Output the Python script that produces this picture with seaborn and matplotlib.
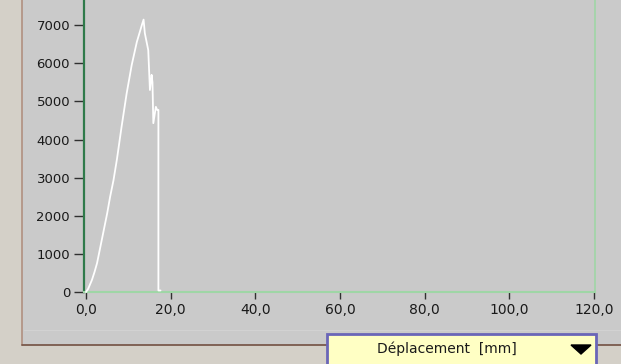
import matplotlib
matplotlib.use("Agg")
import matplotlib.pyplot as plt
from matplotlib.lines import Line2D
from matplotlib.patches import Rectangle, Polygon
from matplotlib.ticker import FixedLocator, FuncFormatter
import seaborn as sns
import pandas as pd

# ---- data ----
deplacement_mm = [0, 0.5, 1.4, 2.0, 2.6, 3.4, 4.2, 5.0, 5.7, 6.5, 7.3, 8.4, 9.6,
                  10.8, 12.0, 13.2, 13.6, 13.9, 14.7, 15.1, 15.5, 15.7, 15.9,
                  16.5, 16.8, 17.1, 17.1, 17.6]
force = [0, 80, 315, 520, 752, 1188, 1625, 2063, 2500, 2937, 3480, 4334, 5210,
         5960, 6560, 7010, 7150, 6790, 6350, 5300, 5700, 5500, 4430,
         4860, 4780, 4780, 40, 40]
x_ticks = [0, 20, 40, 60, 80, 100, 120]
y_ticks = [0, 1000, 2000, 3000, 4000, 5000, 6000, 7000]
x_label = "Déplacement  [mm]"

df = pd.DataFrame({"x": deplacement_mm, "y": force})

sns.set_style("white")
plt.rcParams["font.family"] = ["DejaVu Sans"]

W, H = 621, 364
fig = plt.figure(figsize=(W / 100, H / 100), dpi=100, facecolor="#d4d0c8")

def fx(px):
    return px / W

def fy(py):
    return 1 - py / H

# inner panel background
fig.add_artist(Rectangle((fx(22), fy(345)), fx(W) - fx(22), fy(0) - fy(345),
                         transform=fig.transFigure, facecolor="#cacaca",
                         edgecolor="none", zorder=0))

ax = fig.add_axes([fx(84), fy(292), fx(595) - fx(84), fy(0) - fy(292)])
ax.set_facecolor("#c9c9c9")

sns.lineplot(data=df, x="x", y="y", sort=False, estimator=None, ax=ax,
             color="white", linewidth=1.3)
for ln in ax.lines:
    ln.set_zorder(3)
    ln.set_clip_on(False)

ax.set_xlim(-0.47, 120.2)
ax.set_ylim(0, 7664)
ax.xaxis.set_major_locator(FixedLocator(x_ticks))
ax.yaxis.set_major_locator(FixedLocator(y_ticks))
ax.xaxis.set_major_formatter(FuncFormatter(lambda v, p: f"{v:.1f}".replace(".", ",")))
ax.yaxis.set_major_formatter(FuncFormatter(lambda v, p: f"{int(v)}"))
ax.set_xlabel("")
ax.set_ylabel("")

ax.tick_params(axis="x", direction="out", length=5, width=1, color="#303030",
               labelsize=10, labelcolor="#1a1a1a", pad=3, bottom=True)
ax.tick_params(axis="y", direction="out", length=7, width=1, color="#303030",
               labelsize=9.5, labelcolor="#1a1a1a", pad=3, left=True)

ax.spines["top"].set_visible(False)
ax.spines["left"].set_color("#2f7a4a")
ax.spines["left"].set_linewidth(1.6)
ax.spines["bottom"].set_color("#9fd6a6")
ax.spines["bottom"].set_linewidth(1.5)
ax.spines["right"].set_color("#9fd6a6")
ax.spines["right"].set_linewidth(1.2)

# brown frame lines
brown = "#7a5a4c"
fig.add_artist(Line2D([fx(22), fx(22)], [fy(0), fy(345)], color="#b09080",
                      linewidth=1.2, transform=fig.transFigure))
fig.add_artist(Line2D([fx(22), fx(W)], [fy(345), fy(345)], color=brown,
                      linewidth=1.3, transform=fig.transFigure))
fig.add_artist(Line2D([fx(24), fx(W)], [fy(330), fy(330)], color="#d2d2d2",
                      linewidth=0.8, transform=fig.transFigure))

# axis label box
fig.add_artist(Rectangle((fx(327), fy(366)), fx(596) - fx(327), fy(334) - fy(366),
                         transform=fig.transFigure, facecolor="#ffffc4",
                         edgecolor="#6a66b8", linewidth=2.0, zorder=5))
fig.text(fx(447), fy(349), x_label, ha="center", va="center", fontsize=10,
         color="#1a1a1a", zorder=6)
fig.add_artist(Polygon([[fx(571), fy(345)], [fx(591), fy(345)], [fx(581), fy(354)]],
                       closed=True, transform=fig.transFigure, facecolor="black",
                       edgecolor="black", zorder=6))

fig.savefig("out.png", dpi=100, facecolor=fig.get_facecolor())
